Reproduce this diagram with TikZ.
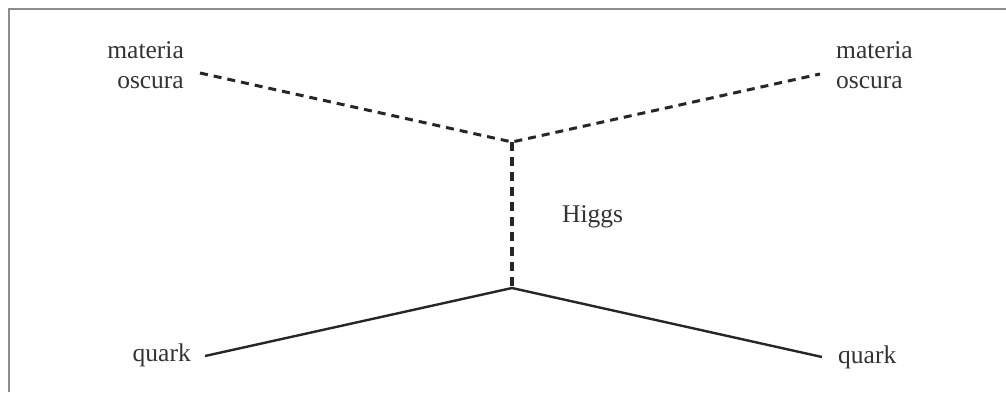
\documentclass[tikz,border=0pt]{standalone}
\usepackage{fontspec}
\setmainfont{Liberation Serif}
\begin{document}
\begin{tikzpicture}[x=1pt,y=-1pt,
  lbl/.style={inner sep=0pt, text=black!80, font=\fontsize{25.5}{30}\selectfont},
  scalar/.style={line width=3pt, dash pattern=on 8pt off 6pt, black!85},
  higgsline/.style={line width=3.4pt, dash pattern=on 9pt off 6pt, black!85},
  fermion/.style={line width=2.4pt, black!85},
  frame/.style={line width=2pt, black!45}]
\useasboundingbox (0,0) rectangle (1006,392);
\fill[white] (0,0) rectangle (1006,392);
\draw[frame] (9,392) -- (9,9) -- (1006,9);
\coordinate (vt) at (512,142);
\coordinate (vb) at (512,288);
\coordinate (dl) at (200,73);
\coordinate (dr) at (820,74);
\coordinate (ql) at (205,356);
\coordinate (qr) at (822,357);
\node[lbl, align=right, anchor=east] (ml) at (184,65) {materia\\oscura};
\node[lbl, align=left, anchor=west] (mr) at (836,65) {materia\\oscura};
\node[lbl, anchor=west] (h) at (562,217) {Higgs};
\node[lbl, anchor=east] (qL) at (191,355) {quark};
\node[lbl, anchor=west] (qR) at (838,357) {quark};
\draw[scalar] (dl) -- (vt) -- (dr);
\draw[higgsline] (vt) -- (vb);
\draw[fermion] (ql) -- (vb) -- (qr);
\end{tikzpicture}
\end{document}
